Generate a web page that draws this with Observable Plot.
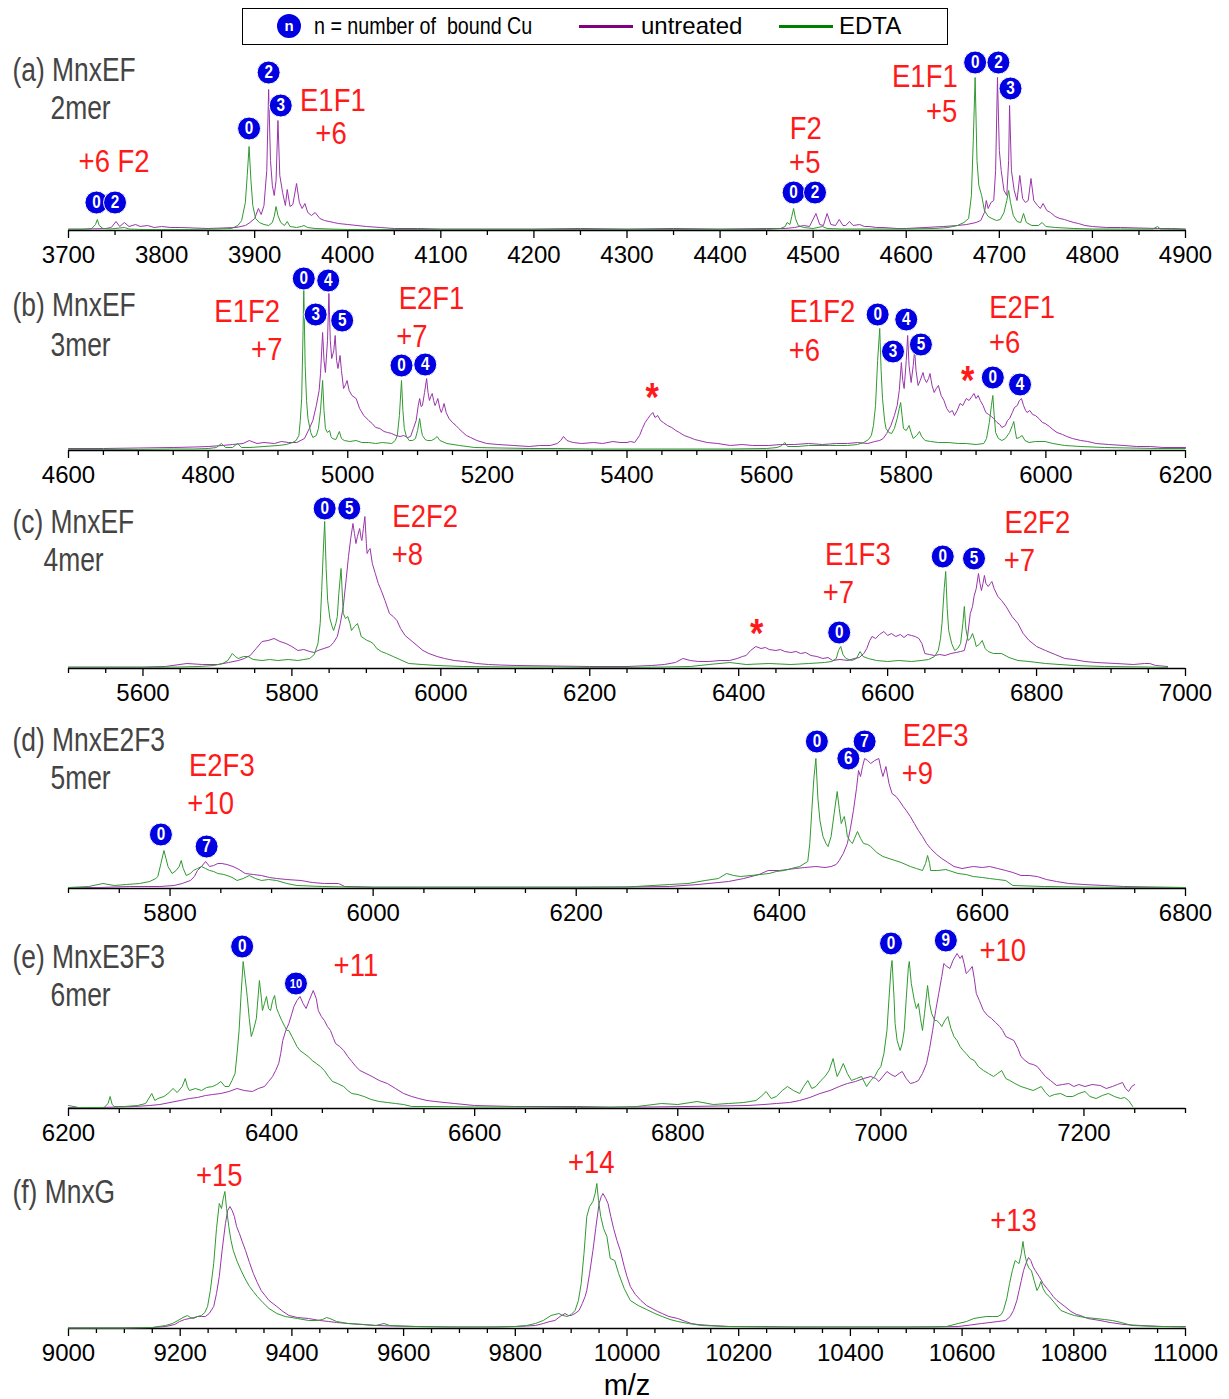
<!DOCTYPE html>
<html><head><meta charset="utf-8">
<script src="https://cdn.jsdelivr.net/npm/d3@7"></script>
<script src="https://cdn.jsdelivr.net/npm/@observablehq/plot@0.6"></script>
<style>
html,body{margin:0;padding:0;background:#fff;overflow:hidden}
body{font-family:"Liberation Sans",Arial,sans-serif}
#wrap{position:relative;width:1229px;height:1399px}
.panel{position:absolute;left:0}
#legend{position:absolute;left:242px;top:8px;width:706px;height:37px;border:1.5px solid #000;box-sizing:border-box;font-size:24px;color:#000}
#legend .item{position:absolute;top:0;height:34px;line-height:34px;white-space:nowrap}
#legend .sw{position:absolute;top:16px;height:2.5px}
#legend .cu{position:absolute;left:34px;top:5px;width:24px;height:24px;border-radius:50%;background:#0000e0;color:#fff;font-weight:bold;font-size:15px;line-height:24px;text-align:center}
</style></head>
<body><div id="wrap">
<div id="legend">
  <div class="cu">n</div>
  <div class="item" style="left:71px;transform:scaleX(0.82);transform-origin:left center">n = number of&nbsp; bound Cu</div>
  <div class="sw" style="left:336px;width:54px;background:#800080"></div>
  <div class="item" style="left:398px">untreated</div>
  <div class="sw" style="left:536px;width:54px;background:#008000"></div>
  <div class="item" style="left:596px">EDTA</div>
</div>
</div>
<script>
// ---------- DATA (m/z, relative intensity) ----------
const aTicks = [3700,3800,3900,4000,4100,4200,4300,4400,4500,4600,4700,4800,4900];
const bTicks = [4600,4800,5000,5200,5400,5600,5800,6000,6200];
const cTicks = [5600,5800,6000,6200,6400,6600,6800,7000];
const dTicks = [5800,6000,6200,6400,6600,6800];
const eTicks = [6200,6400,6600,6800,7000,7200];
const fTicks = [9000,9200,9400,9600,9800,10000,10200,10400,10600,10800,11000];

const aUntreated = [[3700,1.5],[3720,1.5],[3740,2],[3746,3],[3751,9],[3755,4],[3760,8],[3765,4],[3772,6],[3777,4],[3785,5],[3792,3],[3800,4],[3810,3],[3820,3],[3835,2.5],[3850,2],[3865,2.5],[3880,3],[3890,5],[3895,8],[3900,12],[3904,22],[3907,16],[3910,25],[3913,60],[3915,141],[3917,70],[3919,45],[3921,35],[3923,50],[3925,110],[3927,55],[3930,38],[3933,25],[3935,41],[3938,24],[3941,26],[3945,47],[3948,28],[3951,22],[3954,27],[3957,18],[3961,15],[3965,18],[3970,12],[3975,10],[3980,9],[3985,8],[3990,7],[4000,6],[4010,5],[4020,4],[4035,3],[4050,2],[4075,2],[4100,1.5],[4150,1.5],[4200,1.5],[4250,2],[4300,1.5],[4350,2],[4400,1.5],[4450,2],[4470,2],[4480,3],[4490,5],[4496,4],[4503,17],[4507,6],[4511,5],[4515,17],[4519,6],[4524,5],[4528,11],[4532,5],[4535,5],[4539,9],[4543,5],[4550,6],[4555,4],[4560,4],[4568,3],[4575,3],[4590,2],[4600,2],[4620,3],[4640,4],[4655,5],[4665,6],[4675,8],[4680,10],[4684,18],[4686,30],[4688,22],[4691,28],[4694,30],[4696,60],[4698,153],[4700,80],[4702,60],[4705,40],[4708,35],[4710,70],[4711,125],[4713,60],[4716,40],[4719,30],[4722,55],[4725,32],[4728,28],[4731,30],[4734,52],[4737,30],[4741,25],[4744,22],[4747,27],[4751,20],[4755,18],[4760,14],[4765,12],[4770,11],[4773,10],[4780,8],[4785,7],[4792,5],[4800,4],[4815,3],[4830,3],[4850,2.5],[4870,2],[4885,2],[4900,1.5]];
const aEDTA = [[3700,1],[3715,1],[3725,2],[3729,6],[3731,11],[3733,5],[3737,2],[3745,1.5],[3760,3],[3765,1.5],[3780,1],[3800,1],[3830,1],[3860,1.5],[3875,2],[3882,5],[3886,10],[3890,28],[3892,55],[3894,84],[3896,50],[3898,25],[3901,12],[3905,8],[3910,6],[3915,5],[3919,8],[3921,14],[3923,24],[3925,15],[3928,8],[3932,5],[3935,9],[3938,4],[3945,3],[3950,4],[3953,5],[3957,3],[3965,2],[3980,1.5],[4000,1],[4100,1],[4200,1],[4300,1],[4400,1],[4450,1],[4465,2],[4470,4],[4472,8],[4475,6],[4477,14],[4479,22],[4481,12],[4484,5],[4490,3],[4500,2],[4510,4],[4515,2],[4530,1.5],[4560,1.5],[4600,1.5],[4630,2],[4645,3],[4655,5],[4662,8],[4667,12],[4670,35],[4672,90],[4674,153],[4676,70],[4678,45],[4681,35],[4684,20],[4688,14],[4692,12],[4697,10],[4701,11],[4705,18],[4708,30],[4710,40],[4712,28],[4715,15],[4719,9],[4723,8],[4726,17],[4729,8],[4735,5],[4742,5],[4746,8],[4750,4],[4760,3],[4780,2],[4800,1.5],[4830,1.5],[4865,1.5],[4870,4],[4873,1.5],[4900,1]];

const bUntreated = [[4600,2],[4650,2],[4700,2.5],[4750,3],[4780,3.5],[4800,4],[4820,5],[4835,6],[4850,7],[4859,10],[4870,7],[4880,8],[4895,7],[4905,9],[4915,8],[4927,8],[4938,12],[4945,22],[4950,30],[4955,45],[4959,60],[4961,77],[4964,118],[4966,90],[4968,78],[4971,110],[4973,157],[4975,110],[4977,92],[4980,100],[4982,115],[4984,90],[4986,82],[4989,95],[4991,80],[4994,62],[4997,66],[4999,70],[5002,60],[5006,55],[5012,52],[5017,42],[5023,35],[5030,30],[5035,27],[5040,23],[5046,22],[5052,19],[5057,18],[5063,17],[5069,15],[5075,14],[5080,15],[5086,13],[5090,14],[5094,22],[5098,30],[5101,45],[5103,52],[5105,44],[5107,45],[5110,58],[5113,72],[5115,58],[5117,50],[5119,54],[5121,57],[5123,50],[5125,45],[5127,48],[5129,52],[5132,42],[5134,38],[5136,42],[5138,47],[5141,38],[5145,32],[5150,28],[5155,25],[5159,22],[5165,18],[5170,15],[5176,13],[5185,10],[5199,7],[5215,6],[5238,5],[5260,4],[5275,5],[5290,5],[5300,7],[5305,10],[5309,14],[5314,10],[5318,9],[5323,8],[5335,7],[5352,8],[5365,7],[5380,9],[5390,8],[5400,8],[5405,9],[5411,8],[5418,15],[5422,22],[5426,28],[5430,32],[5433,35],[5437,38],[5440,33],[5444,35],[5448,30],[5452,28],[5458,25],[5464,23],[5470,20],[5475,18],[5482,15],[5490,13],[5497,11],[5503,10],[5515,8],[5530,7],[5548,5],[5565,6],[5580,5],[5603,5],[5620,6],[5640,6],[5660,7],[5680,6],[5700,7],[5716,7],[5730,8],[5745,7],[5755,9],[5762,10],[5767,12],[5772,17],[5778,25],[5783,35],[5787,45],[5790,60],[5793,88],[5795,70],[5797,62],[5800,90],[5802,115],[5804,85],[5807,68],[5810,85],[5812,100],[5814,80],[5817,65],[5820,70],[5824,78],[5826,72],[5829,68],[5832,72],[5834,77],[5837,65],[5840,58],[5843,62],[5846,65],[5850,55],[5854,50],[5858,42],[5862,38],[5866,40],[5869,35],[5873,40],[5877,47],[5881,45],[5886,52],[5890,50],[5894,54],[5897,57],[5900,52],[5903,55],[5906,50],[5910,45],[5914,38],[5918,36],[5922,34],[5925,32],[5930,28],[5934,26],[5937,23],[5942,25],[5945,30],[5948,32],[5952,38],[5955,43],[5959,45],[5962,50],[5965,52],[5968,45],[5971,40],[5973,38],[5977,40],[5981,36],[5985,35],[5990,32],[5995,28],[5999,27],[6005,24],[6010,21],[6016,18],[6024,16],[6030,14],[6038,12],[6050,10],[6060,9],[6072,7],[6090,6],[6112,5],[6130,4],[6150,4],[6168,3],[6185,3],[6200,3]];
const bEDTA = [[4600,1],[4650,1],[4700,1],[4750,1.5],[4780,1.5],[4800,2],[4812,3],[4819,7],[4825,3],[4835,3],[4842,7],[4848,3],[4860,3],[4880,4],[4900,5],[4912,6],[4921,8],[4926,10],[4930,15],[4932,30],[4934,52],[4936,120],[4937,163],[4939,85],[4941,50],[4943,32],[4947,18],[4950,13],[4955,15],[4958,22],[4961,40],[4964,70],[4966,40],[4968,22],[4971,18],[4974,20],[4976,14],[4978,12],[4983,11],[4988,19],[4991,12],[4995,10],[5003,9],[5012,10],[5020,8],[5030,8],[5040,7],[5050,8],[5063,7],[5068,10],[5071,15],[5074,35],[5077,70],[5079,40],[5081,22],[5084,14],[5088,10],[5093,10],[5097,12],[5100,20],[5103,32],[5105,22],[5107,15],[5111,11],[5114,10],[5120,10],[5125,12],[5128,14],[5132,10],[5142,7],[5160,5],[5182,3],[5220,2.5],[5260,2],[5300,2],[5350,1.5],[5400,1.5],[5450,1.5],[5500,1.5],[5550,1.5],[5600,2],[5615,3],[5622,5],[5626,8],[5630,4],[5645,4],[5660,5],[5690,5],[5716,5],[5730,6],[5739,8],[5746,11],[5750,15],[5753,25],[5756,45],[5759,90],[5762,122],[5764,80],[5766,52],[5769,30],[5771,22],[5775,18],[5779,17],[5783,22],[5787,32],[5790,42],[5792,48],[5794,35],[5796,22],[5800,20],[5804,25],[5807,18],[5810,12],[5815,15],[5819,19],[5822,14],[5827,10],[5835,9],[5846,8],[5860,8],[5875,7],[5886,7],[5900,6],[5911,7],[5915,12],[5919,28],[5922,45],[5924,55],[5926,35],[5928,18],[5932,12],[5937,10],[5942,12],[5948,18],[5952,25],[5954,29],[5956,20],[5958,12],[5962,13],[5966,15],[5970,10],[5976,8],[5985,9],[5999,9],[6010,7],[6027,5],[6050,4],[6084,3],[6120,2.5],[6160,2],[6200,2]];

const cUntreated = [[5500,1.5],[5550,1.5],[5600,1.5],[5630,2],[5659,5],[5680,4],[5701,4],[5715,6],[5728,8],[5736,10],[5744,13],[5752,20],[5760,27],[5768,28],[5776,30],[5784,27],[5792,25],[5800,22],[5808,18],[5816,19],[5824,17],[5830,16],[5835,18],[5843,20],[5851,22],[5856,26],[5861,32],[5865,45],[5869,62],[5873,90],[5876,112],[5879,130],[5882,145],[5884,135],[5886,125],[5888,132],[5891,140],[5893,130],[5894,128],[5896,140],[5898,152],[5900,125],[5901,115],[5903,118],[5905,120],[5908,105],[5912,95],[5916,85],[5920,78],[5925,68],[5931,55],[5936,52],[5941,48],[5946,40],[5952,33],[5960,28],[5968,23],[5976,18],[5984,15],[5995,12],[6005,10],[6018,8],[6032,7],[6048,5],[6064,4],[6080,3.5],[6101,3],[6150,2.5],[6200,2],[6250,2],[6283,3],[6300,4],[6315,6],[6325,10],[6335,8],[6346,7],[6360,7],[6375,8],[6388,8],[6398,10],[6405,12],[6410,13],[6416,18],[6423,22],[6430,20],[6436,21],[6441,19],[6450,18],[6456,19],[6462,17],[6470,16],[6477,17],[6483,15],[6490,16],[6497,13],[6505,12],[6513,10],[6520,11],[6526,8],[6536,9],[6547,8],[6555,10],[6562,11],[6568,15],[6572,20],[6576,28],[6579,32],[6584,30],[6589,34],[6595,37],[6600,33],[6605,35],[6611,32],[6617,34],[6622,31],[6627,34],[6632,33],[6637,32],[6642,30],[6646,25],[6650,15],[6656,14],[6663,13],[6670,14],[6677,13],[6685,15],[6692,16],[6698,17],[6703,18],[6707,30],[6711,55],[6714,62],[6716,72],[6719,80],[6722,95],[6724,85],[6726,78],[6728,85],[6730,93],[6732,85],[6735,82],[6738,85],[6740,87],[6743,80],[6748,72],[6753,68],[6759,62],[6767,52],[6775,45],[6782,35],[6790,28],[6800,22],[6812,18],[6825,14],[6838,10],[6850,9],[6865,7],[6880,6],[6907,5],[6930,4],[6945,5],[6952,5],[6960,3],[6976,2]];
const cEDTA = [[5500,1],[5550,1],[5600,1],[5650,1.5],[5675,2],[5695,3],[5707,5],[5714,8],[5720,15],[5724,12],[5728,10],[5735,12],[5741,12],[5748,9],[5760,8],[5770,9],[5781,8],[5795,9],[5808,8],[5816,9],[5824,10],[5830,14],[5835,25],[5838,45],[5840,78],[5842,115],[5844,147],[5846,100],[5848,68],[5851,50],[5854,42],[5856,38],[5859,45],[5861,52],[5863,75],[5866,100],[5868,70],[5869,55],[5872,50],[5875,52],[5878,45],[5880,38],[5884,42],[5888,45],[5891,38],[5893,32],[5897,30],[5901,28],[5905,27],[5909,25],[5914,20],[5920,17],[5927,15],[5936,12],[5945,9],[5957,5],[5975,4],[5995,3],[6030,2],[6100,1.5],[6150,1.5],[6200,1],[6250,1],[6300,1.5],[6335,2],[6360,4],[6388,6],[6410,4],[6441,5],[6470,4],[6494,5],[6515,6],[6525,7],[6531,10],[6534,18],[6537,22],[6540,14],[6544,10],[6552,8],[6558,10],[6563,17],[6567,12],[6574,10],[6585,8],[6600,7],[6615,8],[6632,7],[6645,8],[6655,9],[6663,12],[6668,18],[6671,30],[6673,45],[6676,80],[6678,97],[6680,60],[6682,38],[6686,25],[6690,18],[6694,20],[6698,25],[6701,45],[6703,62],[6705,40],[6708,28],[6711,30],[6714,35],[6717,28],[6719,22],[6723,24],[6727,28],[6731,20],[6735,17],[6742,15],[6753,15],[6763,11],[6775,8],[6790,7],[6812,5],[6850,3],[6891,2],[6950,1.5],[6976,1]];

const dUntreated = [[5700,1],[5730,1],[5760,2],[5790,2],[5804,3],[5812,5],[5820,8],[5824,12],[5827,18],[5831,22],[5835,27],[5839,22],[5843,23],[5847,25],[5851,25],[5856,24],[5862,22],[5868,19],[5874,15],[5882,14],[5890,13],[5898,11],[5905,10],[5915,9],[5929,8],[5940,6],[5952,5],[5966,5],[5972,2],[6000,1.5],[6050,1.5],[6100,1.5],[6150,1.5],[6200,1.5],[6250,1.5],[6292,2],[6320,4],[6350,7],[6365,10],[6380,14],[6389,18],[6400,18],[6416,20],[6425,21],[6436,22],[6445,21],[6451,22],[6456,24],[6459,28],[6463,35],[6467,45],[6470,60],[6473,78],[6476,100],[6478,118],[6480,112],[6482,122],[6484,130],[6487,128],[6490,125],[6494,128],[6498,130],[6500,120],[6502,112],[6505,122],[6508,105],[6511,95],[6515,92],[6518,88],[6522,82],[6525,78],[6529,72],[6533,65],[6537,58],[6541,52],[6545,45],[6549,40],[6555,34],[6560,30],[6566,26],[6572,22],[6580,20],[6591,22],[6600,21],[6607,22],[6615,20],[6623,18],[6630,16],[6638,13],[6646,13],[6654,12],[6663,9],[6673,7],[6685,5],[6700,4],[6720,3],[6739,2],[6770,1.5],[6800,1]];
const dEDTA = [[5700,1],[5720,2],[5734,5],[5745,3],[5757,4],[5770,5],[5780,7],[5786,10],[5788,12],[5791,25],[5794,38],[5796,30],[5798,22],[5802,15],[5806,18],[5809,22],[5811,28],[5813,20],[5816,13],[5820,15],[5823,18],[5827,20],[5831,22],[5835,20],[5839,18],[5843,17],[5847,15],[5853,14],[5859,12],[5863,10],[5866,8],[5872,10],[5878,13],[5884,10],[5890,8],[5897,9],[5905,8],[5915,5],[5925,3],[5950,2],[6000,1],[6050,1],[6100,1],[6150,1],[6200,1],[6250,1.5],[6292,4],[6310,5],[6327,8],[6340,10],[6348,15],[6355,13],[6362,12],[6372,13],[6381,14],[6390,15],[6397,17],[6405,18],[6412,20],[6420,22],[6428,27],[6430,45],[6432,78],[6434,110],[6436,130],[6438,90],[6440,68],[6443,52],[6446,45],[6448,42],[6451,52],[6454,75],[6457,97],[6459,80],[6461,65],[6463,70],[6464,72],[6466,60],[6467,52],[6470,47],[6472,45],[6474,50],[6477,57],[6480,50],[6483,45],[6487,44],[6490,42],[6496,36],[6502,32],[6508,30],[6514,28],[6520,26],[6529,22],[6535,20],[6541,18],[6544,25],[6546,33],[6548,25],[6549,18],[6556,18],[6564,19],[6570,17],[6576,15],[6584,14],[6591,12],[6600,11],[6607,10],[6615,9],[6623,8],[6630,3],[6661,2],[6700,1.5],[6750,1],[6800,1]];

const eUntreated = [[6200,1],[6230,1],[6249,1.5],[6265,2],[6280,3],[6290,4],[6300,6],[6310,8],[6319,10],[6327,11],[6335,13],[6342,14],[6350,15],[6358,17],[6366,20],[6373,18],[6381,17],[6387,20],[6393,22],[6397,27],[6401,32],[6404,38],[6407,45],[6409,55],[6411,68],[6414,78],[6417,85],[6420,95],[6422,102],[6425,108],[6428,112],[6431,105],[6434,100],[6437,108],[6441,118],[6444,110],[6446,98],[6449,92],[6452,88],[6455,82],[6458,78],[6461,70],[6463,65],[6467,62],[6471,58],[6475,52],[6479,47],[6483,42],[6487,38],[6493,35],[6499,32],[6506,28],[6514,25],[6522,20],[6530,15],[6538,12],[6545,10],[6553,8],[6561,7],[6580,5],[6600,3],[6639,2],[6700,2],[6733,1.5],[6770,1.5],[6811,2],[6840,2.5],[6869,3],[6885,4],[6897,5],[6910,6],[6920,8],[6930,11],[6940,15],[6950,18],[6959,22],[6967,25],[6975,27],[6983,30],[6990,32],[6995,30],[6998,27],[7002,32],[7006,37],[7010,34],[7014,32],[7018,35],[7021,37],[7025,30],[7029,25],[7033,26],[7037,28],[7041,35],[7045,45],[7048,60],[7051,78],[7054,98],[7057,115],[7060,132],[7062,145],[7065,142],[7068,140],[7071,148],[7075,155],[7078,150],[7080,153],[7082,145],[7084,135],[7087,138],[7090,142],[7092,130],[7094,115],[7097,108],[7101,98],[7105,93],[7109,90],[7113,86],[7117,82],[7120,78],[7123,72],[7127,70],[7131,68],[7135,60],[7138,52],[7142,48],[7146,45],[7150,44],[7154,42],[7158,37],[7162,32],[7167,28],[7173,23],[7179,24],[7185,25],[7190,22],[7195,24],[7201,22],[7208,24],[7216,23],[7222,20],[7228,22],[7233,24],[7238,26],[7241,20],[7244,17],[7247,22],[7250,24]];
const eEDTA = [[6200,3],[6210,1],[6221,1],[6235,1],[6239,5],[6241,12],[6243,4],[6245,2],[6255,2],[6268,3],[6276,5],[6282,15],[6285,8],[6288,10],[6294,12],[6298,15],[6303,20],[6307,16],[6312,22],[6315,30],[6317,22],[6319,18],[6325,20],[6331,18],[6336,21],[6342,22],[6346,24],[6350,27],[6354,22],[6358,22],[6361,28],[6364,35],[6366,55],[6368,78],[6370,115],[6372,147],[6374,130],[6376,112],[6378,90],[6380,72],[6382,78],[6385,90],[6388,128],[6390,110],[6391,98],[6393,105],[6395,112],[6397,100],[6399,98],[6401,108],[6403,113],[6405,100],[6407,95],[6410,88],[6413,82],[6415,78],[6417,78],[6420,72],[6422,68],[6425,62],[6428,58],[6432,55],[6436,52],[6440,48],[6444,45],[6448,42],[6452,38],[6456,32],[6460,27],[6465,25],[6471,22],[6475,18],[6479,15],[6485,14],[6491,12],[6498,9],[6506,7],[6514,6],[6522,5],[6530,4],[6538,2],[6560,2],[6600,1.5],[6650,1.5],[6700,1],[6733,1],[6760,2],[6784,5],[6800,4],[6819,7],[6835,4],[6850,5],[6865,6],[6877,8],[6882,12],[6887,17],[6892,10],[6897,12],[6903,18],[6908,22],[6914,18],[6920,15],[6924,22],[6928,28],[6932,20],[6936,22],[6941,28],[6945,32],[6949,38],[6953,50],[6955,40],[6957,32],[6960,38],[6963,45],[6967,35],[6971,28],[6976,30],[6981,32],[6986,22],[6990,28],[6994,32],[6997,38],[7000,42],[7003,55],[7006,78],[7008,110],[7010,140],[7011,148],[7013,110],[7014,85],[7016,68],[7019,58],[7021,65],[7023,78],[7025,110],[7027,140],[7028,147],[7030,125],[7033,108],[7035,100],[7037,105],[7039,90],[7041,78],[7043,95],[7046,123],[7048,105],[7050,95],[7053,88],[7055,88],[7058,85],[7060,82],[7063,88],[7066,92],[7069,80],[7072,72],[7075,68],[7078,62],[7081,58],[7084,55],[7088,50],[7092,48],[7096,42],[7101,38],[7106,35],[7111,32],[7115,35],[7119,38],[7123,30],[7127,28],[7132,25],[7138,22],[7144,20],[7150,18],[7154,20],[7158,22],[7162,16],[7166,12],[7171,14],[7177,15],[7183,12],[7189,12],[7195,15],[7201,17],[7206,12],[7212,10],[7218,13],[7224,15],[7230,12],[7236,10],[7240,11],[7244,8],[7248,2]];

const fUntreated = [[9000,0.5],[9050,0.5],[9100,0.5],[9150,1],[9174,2],[9190,4],[9199,7],[9208,9],[9217,10],[9225,11],[9231,12],[9238,12],[9245,12],[9252,15],[9260,22],[9265,35],[9270,52],[9275,78],[9281,105],[9285,118],[9289,122],[9293,118],[9297,112],[9301,102],[9306,95],[9311,87],[9317,78],[9324,66],[9331,55],[9338,46],[9345,38],[9352,33],[9359,28],[9366,25],[9373,22],[9384,17],[9395,13],[9410,11],[9430,10],[9450,8],[9466,7],[9480,6],[9501,5],[9525,4],[9551,3],[9580,2.5],[9622,2],[9680,1.5],[9729,1.5],[9770,1.5],[9800,2],[9820,2.5],[9836,3],[9850,5],[9862,7],[9871,8],[9880,12],[9889,15],[9895,13],[9900,13],[9907,15],[9914,18],[9920,25],[9925,32],[9928,38],[9933,55],[9939,78],[9944,100],[9950,125],[9954,132],[9957,135],[9962,130],[9966,125],[9971,112],[9976,100],[9982,88],[9988,78],[9995,62],[10000,52],[10006,42],[10015,34],[10025,28],[10035,23],[10045,20],[10055,17],[10063,15],[10075,12],[10091,10],[10105,7],[10115,5],[10127,4],[10150,3],[10183,2],[10250,1.5],[10300,1.5],[10350,1.5],[10400,1.5],[10450,1.5],[10500,1.5],[10550,1.5],[10593,2],[10615,3.5],[10635,5],[10650,6],[10664,7],[10678,8],[10686,12],[10692,18],[10698,28],[10702,38],[10706,48],[10710,58],[10715,66],[10719,71],[10723,68],[10727,62],[10731,58],[10738,52],[10745,45],[10752,40],[10758,36],[10763,32],[10770,28],[10777,25],[10784,22],[10795,17],[10805,14],[10812,13],[10825,10],[10847,8],[10865,6],[10890,4],[10920,3],[10960,2],[11000,1.5]];
const fEDTA = [[9000,0.5],[9050,0.5],[9100,0.5],[9150,1],[9174,3],[9186,5],[9196,8],[9205,11],[9213,13],[9218,11],[9224,10],[9231,12],[9238,13],[9244,16],[9249,22],[9254,38],[9260,65],[9265,100],[9270,125],[9274,120],[9277,130],[9280,137],[9283,120],[9287,102],[9291,88],[9295,78],[9302,67],[9309,58],[9316,50],[9324,42],[9331,37],[9338,32],[9348,26],[9359,20],[9373,15],[9388,12],[9410,10],[9430,8],[9445,8],[9455,9],[9462,11],[9468,10],[9480,7],[9500,5],[9530,4],[9550,3],[9565,5],[9575,3],[9622,2],[9700,1.5],[9750,1.5],[9800,2],[9820,3],[9836,5],[9850,8],[9864,13],[9871,14],[9878,15],[9885,13],[9893,12],[9900,14],[9907,18],[9913,28],[9918,45],[9923,75],[9928,112],[9933,122],[9939,127],[9943,135],[9946,145],[9949,128],[9953,112],[9958,100],[9964,92],[9970,70],[9978,68],[9985,55],[9995,40],[10006,28],[10020,23],[10035,19],[10050,15],[10063,12],[10077,9],[10091,7],[10110,5],[10134,3],[10180,2],[10254,2],[10300,1.5],[10400,1.5],[10500,1.5],[10572,2],[10593,5],[10608,7],[10621,10],[10632,11],[10643,12],[10655,12],[10664,12],[10670,14],[10674,18],[10680,30],[10685,45],[10690,58],[10695,68],[10699,66],[10702,65],[10706,75],[10709,87],[10712,75],[10716,65],[10720,60],[10724,58],[10729,48],[10734,38],[10738,42],[10741,47],[10745,40],[10750,35],[10756,32],[10765,26],[10777,18],[10790,15],[10801,13],[10820,11],[10840,10],[10855,9],[10869,8],[10885,6],[10904,3],[10950,2],[11000,2]];

// annotations: bound-Cu markers [m/z, height, n]
const aCu = [[3730,28,"0"],[3750,28,"2"],[3894,102,"0"],[3915,158,"2"],[3928,125,"3"],[4479,38,"0"],[4502,38,"2"],[4674,168,"0"],[4699,168,"2"],[4712,142,"3"]];
const bCu = [[4937,172,"0"],[4972,170,"4"],[4954,136,"3"],[4992,130,"5"],[5077,85,"0"],[5111,86,"4"],[5759,136,"0"],[5800,131,"4"],[5781,99,"3"],[5821,106,"5"],[5924,73,"0"],[5963,66,"4"]];
const cCu = [[5844,160,"0"],[5877,160,"5"],[6535,36,"0"],[6674,112,"0"],[6716,110,"5"]];
const dCu = [[5791,54,"0"],[5836,42,"7"],[6437,147,"0"],[6468,130,"6"],[6484,147,"7"]];
const eCu = [[6371,162,"0"],[6424,125,"10"],[7010,165,"0"],[7064,168,"9"]];
const fCu = [];

// species / charge labels [m/z, height, text]
const aLabels = [[3749,69,"+6 F2"],[3984,130,"E1F1"],[3982,97,"+6"],[4492,102,"F2"],[4491,68,"+5"],[4620,154,"E1F1"],[4638,119,"+5"]];
const bLabels = [[4856,139,"E1F2"],[4884,101,"+7"],[5120,152,"E2F1"],[5092,114,"+7"],[5680,139,"E1F2"],[5654,100,"+6"],[5966,143,"E2F1"],[5941,108,"+6"]];
const cLabels = [[5979,152,"E2F2"],[5955,114,"+8"],[6560,114,"E1F3"],[6534,76,"+7"],[6801,146,"E2F2"],[6777,108,"+7"]];
const dLabels = [[5851,123,"E2F3"],[5840,85,"+10"],[6554,153,"E2F3"],[6536,115,"+9"]];
const eLabels = [[6483,143,"+11"],[7120,158,"+10"]];
const fLabels = [[9270,153,"+15"],[9936,166,"+14"],[10692,108,"+13"]];
const bStars = [[5436,60],[5888,77]];
const cStars = [[6424,42]];

const panelNames = [["(a) MnxEF","2mer"],["(b) MnxEF","3mer"],["(c) MnxEF","4mer"],["(d) MnxE2F3","5mer"],["(e) MnxE3F3","6mer"],["(f) MnxG",""]];

// ---------- DRAW ----------
const PURPLE = "#9a35aa", GREEN = "#2f9a2f", BLUE = "#0000e0", RED = "#ff1a1a", GRAY = "#444444";
const FONT = "'Liberation Sans', Arial, sans-serif";

function condense(svg) {
  svg.querySelectorAll("text").forEach(t => {
    const g = t.parentNode;
    const fill = g.getAttribute("fill");
    let k = 1;
    if (fill === RED) k = 0.86;
    else if (fill === GRAY) k = 0.8;
    else if (fill === "white") k = 0.85;
    if (k === 1) return;
    const tr = t.getAttribute("transform");
    if (tr) t.setAttribute("transform", tr + ` scale(${k},1)`);
    else {
      const x = +(t.getAttribute("x") || 0);
      t.setAttribute("transform", `translate(${x},0) scale(${k},1) translate(${-x},0)`);
    }
  });
}

function panel(opt) {
  const {domain, ticks, untreated, edta, cu, labels, stars = [], names, nameDy, subDy, subDx, axisY, extraBottom = 0, xTitle} = opt;
  const plotH = 184, mb = 36 + extraBottom;
  const minor = d3.range(domain[0], domain[1] + 1, 50).filter(v => !ticks.includes(v));
  const marks = [
    Plot.axisX({ticks: minor, tickSize: 5, tickFormat: () => "", strokeWidth: 1.3, label: null}),
    Plot.axisX({ticks, tickSize: 8, tickPadding: 7, tickFormat: d3.format("d"), fontSize: 24, strokeWidth: 1.3, label: null, fill: "#000"}),
    Plot.ruleY([0], {stroke: "#000", strokeWidth: 1.6}),
    Plot.line(untreated, {x: d => d[0], y: d => d[1], stroke: PURPLE, strokeWidth: 1}),
    Plot.line(edta, {x: d => d[0], y: d => d[1], stroke: GREEN, strokeWidth: 1}),
    Plot.dot(cu, {x: d => d[0], y: d => d[1], r: 11.5, fill: BLUE, stroke: "white", strokeWidth: 1}),
    Plot.text(cu, {x: d => d[0], y: d => d[1], text: d => d[2], fill: "white", fontWeight: "bold", fontSize: d => d[2].length > 1 ? 13 : 18, fontFamily: FONT}),
    Plot.text(labels, {x: d => d[0], y: d => d[1], text: d => d[2], fill: RED, fontSize: 32, fontFamily: FONT}),
    Plot.text(stars, {x: d => d[0], y: d => d[1], text: () => "*", fill: RED, fontSize: 40, fontWeight: "bold", fontFamily: FONT, dy: 8}),
    Plot.text([names[0]], {frameAnchor: "top-left", dx: -56, dy: nameDy, text: d => d, fill: GRAY, fontSize: 33, textAnchor: "start", lineAnchor: "middle", fontFamily: FONT}),
    Plot.text([names[1]], {frameAnchor: "top-left", dx: subDx, dy: subDy, text: d => d, fill: GRAY, fontSize: 33, textAnchor: "start", lineAnchor: "middle", fontFamily: FONT})
  ];
  if (xTitle) marks.push(Plot.text([xTitle], {frameAnchor: "bottom", dy: 57, text: d => d, fill: "#000", fontSize: 29, lineAnchor: "middle", fontFamily: FONT}));
  const svg = Plot.plot({
    width: 1229, height: plotH + mb, marginLeft: 68, marginRight: 44, marginTop: 0, marginBottom: mb,
    style: {background: "transparent", overflow: "visible", fontFamily: FONT, color: "#000"},
    x: {domain, label: null},
    y: {domain: [0, plotH], axis: null},
    marks
  });
  condense(svg);
  svg.classList.add("panel");
  svg.style.position = "absolute";
  svg.style.top = (axisY - plotH) + "px";
  svg.style.left = "0px";
  document.getElementById("wrap").appendChild(svg);
}

panel({domain: [3700, 4900], ticks: aTicks, untreated: aUntreated, edta: aEDTA, cu: aCu, labels: aLabels, names: panelNames[0], nameDy: 24, subDy: 62, subDx: -18, axisY: 230});
panel({domain: [4600, 6200], ticks: bTicks, untreated: bUntreated, edta: bEDTA, cu: bCu, labels: bLabels, stars: bStars, names: panelNames[1], nameDy: 39, subDy: 79, subDx: -18, axisY: 450});
panel({domain: [5500, 7000], ticks: cTicks, untreated: cUntreated, edta: cEDTA, cu: cCu, labels: cLabels, stars: cStars, names: panelNames[2], nameDy: 38, subDy: 76, subDx: -25, axisY: 668});
panel({domain: [5700, 6800], ticks: dTicks, untreated: dUntreated, edta: dEDTA, cu: dCu, labels: dLabels, names: panelNames[3], nameDy: 36, subDy: 74, subDx: -18, axisY: 888});
panel({domain: [6200, 7300], ticks: eTicks, untreated: eUntreated, edta: eEDTA, cu: eCu, labels: eLabels, names: panelNames[4], nameDy: 33, subDy: 71, subDx: -18, axisY: 1108});
panel({domain: [9000, 11000], ticks: fTicks, untreated: fUntreated, edta: fEDTA, cu: fCu, labels: fLabels, names: panelNames[5], nameDy: 48, subDy: 86, subDx: -18, axisY: 1328, extraBottom: 30, xTitle: "m/z"});
</script>
</body></html>
